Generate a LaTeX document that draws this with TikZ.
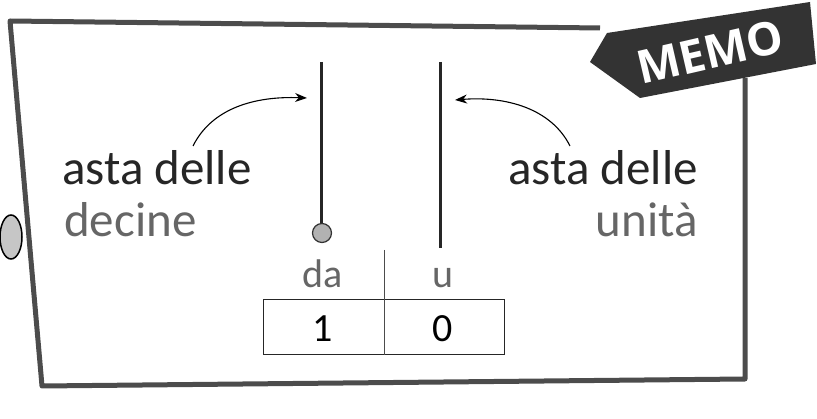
\documentclass[tikz,border=0pt]{standalone}
\usepackage{fontspec}
\setmainfont{Carlito}
\newfontfamily\memofont{Open Sans}
\usetikzlibrary{arrows.meta}
\definecolor{frame}{gray}{0.3}
\tikzset{
  framestyle/.style={draw=frame,line width=5pt,line join=round},
  lbl/.style={font=\fontsize{49}{52}\selectfont,inner sep=0pt,anchor=base,text=black!85},
  cell/.style={font=\fontsize{40}{44}\selectfont,inner sep=0pt,anchor=base},
  rod/.style={line width=3pt,black!85},
  pointer/.style={line width=1.1pt,-{Stealth[length=12pt,width=9pt]}},
}
\begin{document}
\begin{tikzpicture}[x=1pt,y=-1pt]
\useasboundingbox (0,0) rectangle (817,419);
% ring on the left
\filldraw[fill=gray!45,draw=black,line width=1.5pt] (11,237) ellipse [x radius=11,y radius=22];
% frame
\draw[framestyle] (600,28) -- (10,21) -- (42,386) -- (745,379) -- (745,78);
% memo tag
\fill[black!80] (590,62) -- (607,33) -- (810,2) -- (816,64) -- (640,98) -- cycle;
\node[text=white,font=\memofont\fontsize{46}{46}\selectfont\bfseries,rotate=13,inner sep=0pt] (memo) at (710,52) {MEMO};
% rods
\coordinate (dtop) at (321,62);
\coordinate (dbot) at (321,225);
\coordinate (utop) at (440,62);
\coordinate (ubot) at (440,248);
\draw[rod] (dtop) -- (dbot);
\draw[rod] (utop) -- (ubot);
\node[circle,fill=gray!60,draw=black!80,line width=1.2pt,minimum size=19pt,inner sep=0pt] (bead) at (322,233) {};
% labels
\node[lbl,anchor=base west] (l1) at (62,185) {asta delle};
\node[lbl,anchor=base west,text=black!60] (l2) at (64,237) {decine};
\node[lbl,anchor=base east] (r1) at (698,185) {asta delle};
\node[lbl,anchor=base east,text=black!60] (r2) at (698,237) {unità};
% arrows
\coordinate (la) at (193,146);
\coordinate (lb) at (307,98);
\coordinate (ra) at (570,146);
\coordinate (rb) at (455,100);
\draw[pointer] (la) .. controls (212,108) and (255,96) .. (lb);
\draw[pointer] (ra) .. controls (551,108) and (505,96) .. (rb);
% table
\node[draw=black!85,line width=1pt,minimum width=241pt,minimum height=55pt,inner sep=0pt] (box) at (383.5,327.5) {};
\coordinate (divtop) at (384,250);
\coordinate (divbot) at (384,355);
\draw[black!70,line width=0.8pt] (divtop) -- (divbot);
\node[cell,text=black!60] (da) at (323,288) {da};
\node[cell,text=black!60] (u) at (443,288) {u};
\node[cell] (one) at (323,342) {1};
\node[cell] (zero) at (443,342) {0};
\end{tikzpicture}
\end{document}
